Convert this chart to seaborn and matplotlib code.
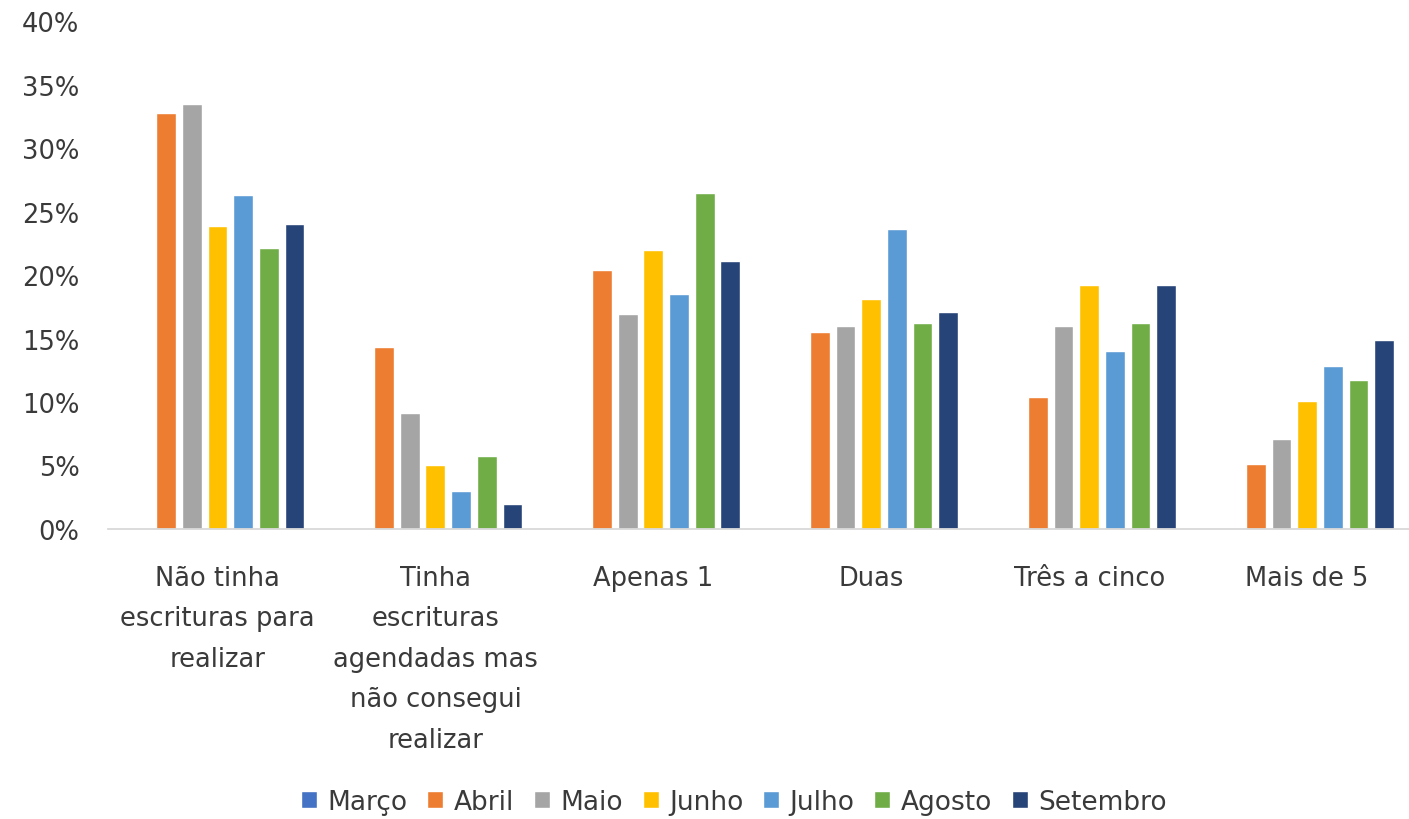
import numpy as np
import pandas as pd
import matplotlib
matplotlib.use('Agg')
import matplotlib.pyplot as plt
import seaborn as sns
from matplotlib.ticker import PercentFormatter

categorias = ['Não tinha\nescrituras para\nrealizar',
              'Tinha\nescrituras\nagendadas mas\nnão consegui\nrealizar',
              'Apenas 1', 'Duas', 'Três a cinco', 'Mais de 5']
meses = ['Março', 'Abril', 'Maio', 'Junho', 'Julho', 'Agosto', 'Setembro']

marco = [0, 0, 0, 0, 0, 0]
abril = [32.8, 14.3, 20.4, 15.5, 10.4, 5.1]
maio = [33.5, 9.1, 16.9, 16.0, 16.0, 7.1]
junho = [23.9, 5.0, 22.0, 18.1, 19.2, 10.1]
julho = [26.3, 3.0, 18.5, 23.6, 14.0, 12.8]
agosto = [22.1, 5.75, 26.5, 16.2, 16.2, 11.7]
setembro = [24.0, 2.0, 21.1, 17.1, 19.2, 14.9]

cores = ['#4472C4', '#ED7D31', '#A5A5A5', '#FFC000', '#5B9BD5', '#70AD47', '#264478']

series = [marco, abril, maio, junho, julho, agosto, setembro]
linhas = []
for mes, vals in zip(meses, series):
    for cat, v in zip(categorias, vals):
        linhas.append({'categoria': cat, 'mes': mes, 'valor': v / 100})
df = pd.DataFrame(linhas)

sns.set_style('white')
plt.rcParams['font.family'] = ['DejaVu Sans']
texto = '#3a3a3a'
fs = 18.5

fig = plt.figure(figsize=(14.09, 8.2), dpi=100)
ax = fig.add_axes([0.077, 0.3537, 0.928, 0.6193])

sns.barplot(data=df, x='categoria', y='valor', hue='mes', hue_order=meses,
            order=categorias, palette=cores, saturation=1, width=0.825, gap=0.23, ax=ax)

ax.set_ylim(0, 0.40)
ax.set_yticks(np.arange(0, 0.41, 0.05))
ax.yaxis.set_major_formatter(PercentFormatter(1.0, decimals=0))
ax.set_xlim(-0.5, 5.5)
ax.set_xlabel('')
ax.set_ylabel('')

for s in ['top', 'right', 'left']:
    ax.spines[s].set_visible(False)
ax.spines['bottom'].set_color('#D9D9D9')
ax.spines['bottom'].set_linewidth(1.3)

ax.tick_params(axis='y', length=0, pad=21, labelsize=fs, labelcolor=texto)
ax.tick_params(axis='x', length=0, pad=26, labelsize=fs, labelcolor=texto)
for lab in ax.get_xticklabels():
    lab.set_linespacing(1.72)
    lab.set_verticalalignment('top')

handles, labels = ax.get_legend_handles_labels()
ax.get_legend().remove()
fig.legend(handles, labels, loc='center', bbox_to_anchor=(734 / 1409, 0.021), ncol=7,
           frameon=False, fontsize=19, handlelength=0.6, handleheight=0.6,
           handletextpad=0.4, columnspacing=0.75, labelcolor=texto)

fig.savefig('out.png', dpi=100)
